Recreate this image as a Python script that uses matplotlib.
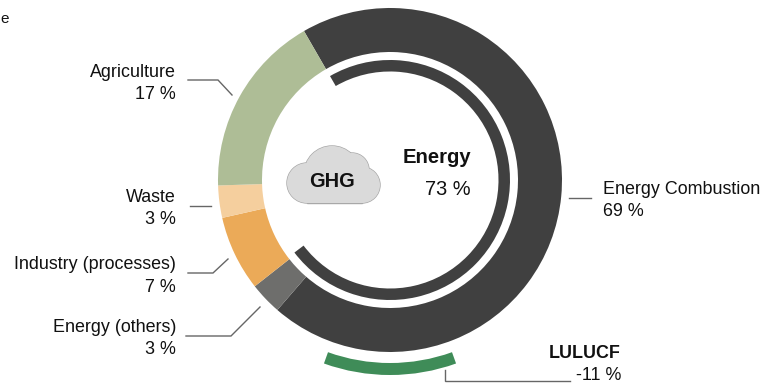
import matplotlib
matplotlib.use("Agg")
import matplotlib.pyplot as plt
from matplotlib.patches import Wedge, Circle, Rectangle

plt.rcParams['font.family'] = ['Liberation Sans', 'DejaVu Sans']

# Emission shares in percent
sectors = ["Energy Combustion", "Energy (others)", "Industry (processes)", "Waste", "Agriculture"]
shares = [69, 3, 7, 3, 17]
sector_colors = ["#404040", "#6E6E6C", "#EBAA58", "#F5CF9E", "#AEBD96"]
energy_total = 73
lulucf_share = -11

W, H = 763, 383
cx, cy = 390, 203
TEXT = "#111111"
LEADER = "#666666"

fig = plt.figure(figsize=(W / 100, H / 100), dpi=100)
ax = fig.add_axes([0, 0, 1, 1])

# Main sector ring, clockwise from the upper left
ax.pie(shares, startangle=120, counterclock=False, radius=172, center=(cx, cy),
       colors=sector_colors, frame=False,
       wedgeprops=dict(width=44, linewidth=0))

# Thin arc summarising the whole energy sector
energy_sweep = energy_total / 100 * 360
ax.add_patch(Wedge((cx, cy), 120, 120 - energy_sweep, 120, width=11.5,
                   facecolor="#404040", linewidth=0))

# Land-use sink arc below the ring, centred on the bottom
lulucf_sweep = abs(lulucf_share) / 100 * 360
ax.add_patch(Wedge((cx, cy), 195, 270 - lulucf_sweep / 2, 270 + lulucf_sweep / 2, width=12,
                   facecolor="#3F8C58", linewidth=0))

# Cloud: outlined lobes underneath, a borderless copy on top hides the inner edges
lobes = [(307, 200, 20), (362, 198, 18), (332, 209, 28), (352, 213, 17)]
for z, edge in ((3, "#A8A8A8"), (4, "none")):
    lw = 1.0 if z == 3 else 0
    for x, y, r in lobes:
        ax.add_patch(Circle((x, y), r, facecolor="#DADADA", edgecolor=edge, linewidth=lw, zorder=z))
    ax.add_patch(Rectangle((307, 180), 55, 22, facecolor="#DADADA", edgecolor=edge, linewidth=lw, zorder=z))

def flip(y):
    return H - y

# Leader lines from labels to the ring
leaders = [
    ([188, 218, 232], [80, 80, 95]),
    ([190, 211], [206, 206]),
    ([188, 213, 228], [273, 273, 259]),
    ([186, 231, 260], [336, 336, 307]),
    ([569, 591], [198, 198]),
    ([445, 445, 570], [370, 381, 381]),
]
for xs, ys in leaders:
    ax.plot(xs, [flip(y) for y in ys], color=LEADER, linewidth=1.0, solid_joinstyle="miter")

def label(x, y, s, ha="right", bold=False, size=12.9):
    ax.text(x, flip(y), s, ha=ha, va="center", fontsize=size, color=TEXT,
            fontweight="bold" if bold else "normal", zorder=6)

label(176, 72.5, "Agriculture")
label(176, 94.5, f"{shares[4]} %")
label(176, 197.5, "Waste")
label(176, 219.5, f"{shares[3]} %")
label(176, 264.5, "Industry (processes)")
label(176, 287.5, f"{shares[2]} %")
label(176, 327.5, "Energy (others)")
label(176, 349.5, f"{shares[1]} %")
label(603, 189.5, "Energy Combustion", ha="left")
label(603, 211.5, f"{shares[0]} %", ha="left")
label(621, 353.5, "LULUCF", bold=True)
label(621, 375.5, f"{lulucf_share} %")
label(471, 157.5, "Energy", bold=True, size=14.6)
label(471, 189.5, f"{energy_total} %", size=14.4)
label(332, 181.5, "GHG", ha="center", bold=True, size=14.4)
label(0.5, 19, "e", ha="left", size=11)

ax.set_xlim(0, W)
ax.set_ylim(0, H)
ax.set_aspect("equal")
ax.axis("off")

fig.savefig("out.png", dpi=100, facecolor="white")
